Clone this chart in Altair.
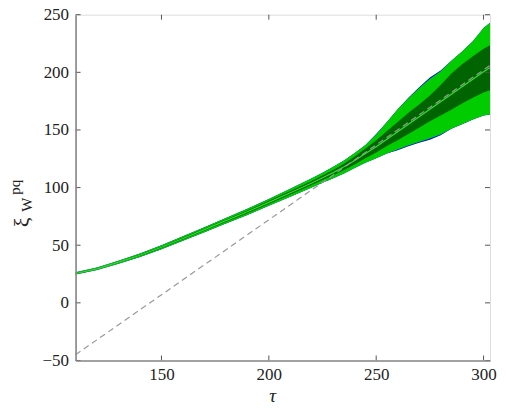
import altair as alt
import pandas as pd

tau = [110, 120, 130, 140, 150, 160, 170, 180, 190, 200, 210, 220, 225, 230, 235,
       240, 245, 250, 255, 260, 265, 270, 275, 280, 285, 290, 295, 300, 303]
center = [25.5, 29.5, 35.3, 41.3, 48.2, 55.8, 63.5, 71.3, 79.0, 87.2, 95.5, 104.0, 108.5, 113.0, 118.0,
          123.5, 129.5, 135.5, 142.0, 148.5, 155.0, 161.5, 168.0, 174.5, 181.0, 187.5, 194.0, 200.5, 204.0]
dark_upper = [26.0, 30.0, 35.9, 42.0, 49.0, 56.7, 64.5, 72.4, 80.2, 88.6, 97.1, 105.8, 110.5, 115.3, 120.7,
              127.0, 134.0, 141.0, 149.0, 157.0, 165.0, 172.0, 180.0, 189.0, 199.0, 207.0, 214.0, 220.5, 223.5]
dark_lower = [25.0, 29.0, 34.7, 40.6, 47.4, 54.9, 62.5, 70.2, 77.8, 85.8, 93.9, 102.2, 106.5, 110.7, 115.3,
              120.0, 125.5, 130.5, 136.0, 141.0, 146.5, 152.0, 157.5, 162.5, 167.5, 173.0, 178.0, 182.5, 184.5]
light_upper = [26.5, 30.6, 36.6, 42.8, 50.0, 57.8, 65.7, 73.7, 81.7, 90.2, 98.9, 108.0, 112.8, 118.0, 123.5,
               130.0, 137.0, 146.0, 157.0, 168.0, 177.5, 186.5, 194.5, 201.0, 210.0, 218.0, 227.0, 238.5, 243.0]
light_lower = [24.5, 28.4, 34.0, 39.8, 46.4, 53.8, 61.3, 68.9, 76.3, 84.2, 92.1, 100.0, 104.2, 108.0, 112.3,
               117.0, 121.5, 125.5, 129.5, 133.0, 136.5, 139.5, 142.5, 146.0, 151.0, 155.0, 159.0, 162.5, 163.5]
blue_upper = [26.5, 30.6, 36.6, 42.8, 50.0, 57.8, 65.7, 73.7, 81.7, 90.2, 98.9, 108.0, 112.8, 118.0, 123.5,
              130.0, 137.0, 146.5, 157.0, 168.0, 178.0, 187.0, 195.5, 201.5, 210.0, 218.0, 227.0, 238.5, 243.0]
blue_lower = [24.5, 28.4, 34.0, 39.8, 46.4, 53.8, 61.3, 68.9, 76.3, 84.2, 92.1, 100.0, 104.2, 108.0, 112.3,
              117.0, 121.5, 125.5, 129.5, 132.5, 135.8, 139.0, 141.5, 145.5, 151.0, 155.0, 159.0, 162.5, 163.5]

ref_tau = [110, 303]
ref_xi = [-45, 206]

x_ticks = [150, 200, 250, 300]
y_ticks = [-50, 0, 50, 100, 150, 200, 250]

W = 415.3
H = 346.5
TICK = 5
SERIF = "Liberation Serif"

df = pd.DataFrame({"tau": tau, "c": center, "du": dark_upper, "dl": dark_lower,
                   "lu": light_upper, "ll": light_lower, "bu": blue_upper, "bl": blue_lower})
ref = pd.DataFrame({"tau": ref_tau, "xi": ref_xi})
xt = pd.DataFrame({"v": x_ticks})
yt = pd.DataFrame({"v": y_ticks})

xs = alt.Scale(domain=[110, 303], nice=False, zero=False)
ys = alt.Scale(domain=[-50, 250], nice=False, zero=False)

xaxis = alt.Axis(values=x_ticks, tickSize=0, labelPadding=6, domainColor="#888888",
                 domainWidth=1.6, labelFont=SERIF, labelFontSize=17, grid=False,
                 labelColor="#222222", title="τ", titleFont=SERIF,
                 titleFontSize=19, titleFontStyle="italic", titleFontWeight="normal",
                 titleColor="#222222", titleX=197, titleY=35, titleBaseline="middle", zindex=1)
yaxis = alt.Axis(values=y_ticks, tickSize=0, labelPadding=7, domainColor="#888888",
                 domainWidth=1.6, labelFont=SERIF, labelFontSize=17, grid=False,
                 labelColor="#222222", title=None, zindex=1)

base = alt.Chart(df)
blue = base.mark_area(color="#0000ff", clip=True).encode(
    x=alt.X("tau:Q", scale=xs, axis=xaxis), y=alt.Y("bu:Q", scale=ys, axis=yaxis), y2="bl:Q")
light = base.mark_area(color="#00cc00", clip=True).encode(x="tau:Q", y="lu:Q", y2="ll:Q")
dark = base.mark_area(color="#006400", clip=True).encode(x="tau:Q", y="du:Q", y2="dl:Q")
line = base.mark_line(color="#33dd33", strokeWidth=1.2, clip=True).encode(x="tau:Q", y="c:Q")
dash = alt.Chart(ref).mark_line(color="#999999", strokeWidth=1.2, strokeDash=[6, 4], clip=True).encode(
    x="tau:Q", y="xi:Q")

tick_col = "#555555"
bt = alt.Chart(xt).mark_rule(color=tick_col, strokeWidth=1).encode(
    x="v:Q", y=alt.value(H), y2=alt.value(H - TICK))
tt = alt.Chart(xt).mark_rule(color=tick_col, strokeWidth=1).encode(
    x="v:Q", y=alt.value(0), y2=alt.value(TICK))
lt = alt.Chart(yt).mark_rule(color=tick_col, strokeWidth=1).encode(
    y="v:Q", x=alt.value(0), x2=alt.value(TICK))
rt = alt.Chart(yt).mark_rule(color=tick_col, strokeWidth=1).encode(
    y="v:Q", x=alt.value(W), x2=alt.value(W - TICK))

xi_lab = alt.Chart(pd.DataFrame({"t": ["ξ"]})).mark_text(
    font=SERIF, fontSize=22, angle=270, baseline="middle", align="center", color="#222222").encode(
    text="t:N", x=alt.value(-54), y=alt.value(208))
w_lab = alt.Chart(pd.DataFrame({"t": ["W"]})).mark_text(
    font=SERIF, fontSize=15, angle=270, baseline="middle", align="center", color="#222222").encode(
    text="t:N", x=alt.value(-48.5), y=alt.value(190.5))
pq_lab = alt.Chart(pd.DataFrame({"t": ["pq"]})).mark_text(
    font=SERIF, fontSize=15, angle=270, baseline="middle", align="center", color="#222222").encode(
    text="t:N", x=alt.value(-61), y=alt.value(173))

chart = alt.layer(blue, light, dark, line, dash, bt, tt, lt, rt, xi_lab, w_lab, pq_lab).properties(
    width=W, height=H,
    autosize=alt.AutoSizeParams(type="none"),
    padding={"left": 67.7, "top": 6.3, "right": 8, "bottom": 50},
).configure_view(stroke="#222222", strokeWidth=1).configure_axis(
    grid=False, labelFont=SERIF, titleFont=SERIF, labelFontSize=17
).configure_text(font=SERIF).configure(background="white", font=SERIF)

chart.save("out.html", embed_options={"renderer": "svg", "actions": False})
